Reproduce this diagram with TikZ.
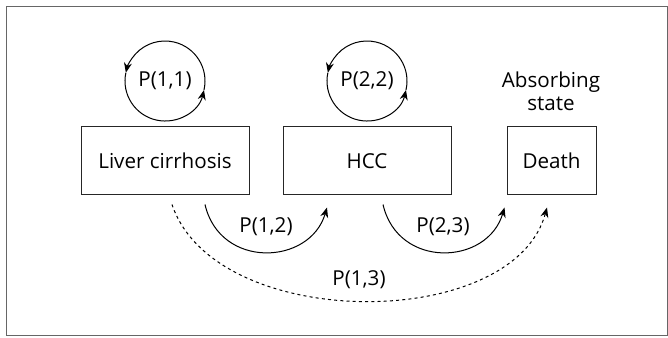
\documentclass[tikz,border=0pt]{standalone}
\usepackage{fontspec}
\setmainfont{Open Sans}
\usetikzlibrary{arrows.meta}
\begin{document}
\begin{tikzpicture}[x=0.5pt,y=0.5pt,line width=0.5pt,font=\fontsize{10.3}{11.5}\selectfont,
  state/.style={draw,black!85,text=black,minimum height=34pt,inner sep=0pt},
  trans/.style={-{Stealth[length=5pt,width=4pt]}}]
\useasboundingbox (0,0) rectangle (668,337);
\draw[black!60,line width=0.5pt] (6,2) rectangle (667,330);
\node[state,minimum width=84pt] (lc) at (165,176) {Liver cirrhosis};
\node[state,minimum width=84pt] (hcc) at (367,176) {HCC};
\node[state,minimum width=44.5pt] (death) at (551.5,176) {Death};
\node[align=center] (abs) at (551,246) {Absorbing\\state};
\foreach \n/\x/\t in {l11/165/{P(1,1)},l22/367/{P(2,2)}} {
  \node (\n) at (\x,256) {\t};
  \draw[trans] ([shift={(-13:20pt)}]\n.center) arc[start angle=-13,end angle=168,radius=20pt];
  \draw[trans] ([shift={(168:20pt)}]\n.center) arc[start angle=168,end angle=347,radius=20pt];
}
% transitions under the boxes
\coordinate (s12) at ([shift={(20pt,-4.5pt)}]lc.south);
\coordinate (e12) at ([shift={(-20pt,-6pt)}]hcc.south);
\coordinate (s23) at ([shift={(8pt,-4.5pt)}]hcc.south);
\coordinate (e23) at ([shift={(-1pt,-6pt)}]death.south west);
\coordinate (s13) at ([shift={(3.5pt,-4.5pt)}]lc.south);
\coordinate (e13) at ([shift={(-2.25pt,-6pt)}]death.south);
\draw[trans] (s12) .. controls +(15,-65) and +(-17,-58) .. (e12);
\draw[trans] (s23) .. controls +(15,-65) and +(-17,-58) .. (e23);
\draw[trans,dash pattern=on 1.5pt off 1.6pt] (s13) .. controls +(43,-128) and +(-34,-125) .. (e13);
\node (p12) at (266,110) {P(1,2)};
\node (p23) at (443,110) {P(2,3)};
\node (p13) at (359,57) {P(1,3)};
\end{tikzpicture}
\end{document}
